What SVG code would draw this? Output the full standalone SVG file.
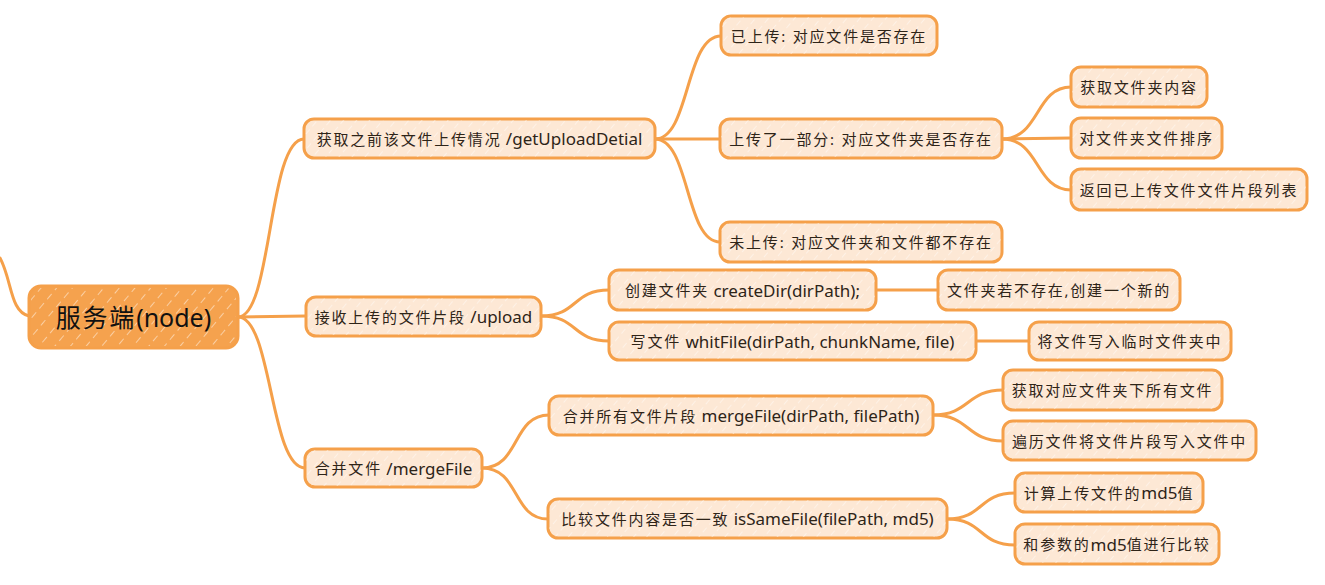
<svg xmlns="http://www.w3.org/2000/svg" width="1325" height="585" viewBox="0 0 1325 585">
<defs>
<pattern id="hatchL" width="10" height="10" patternUnits="userSpaceOnUse" patternTransform="rotate(40)">
<line x1="0" y1="0" x2="0" y2="6" stroke="#ffffff" stroke-width="1.2" stroke-opacity="0.7"/>
</pattern>
<pattern id="hatchR" width="12" height="12" patternUnits="userSpaceOnUse" patternTransform="rotate(40)">
<line x1="0" y1="0" x2="0" y2="7" stroke="#ffffff" stroke-width="1.3" stroke-opacity="0.75"/>
</pattern>
<style>
.n rect.b{fill:#fde8d5;stroke:#f5a04a;stroke-width:3}
.n rect.h{fill:url(#hatchL);stroke:none}
.n text{font-family:"Noto Sans","Noto Sans CJK SC",sans-serif;font-size:17px;fill:#2e2418;text-anchor:middle;dominant-baseline:central}
.c{letter-spacing:1.8px;font-size:15px}
#root rect.b{fill:#f5a24e;stroke:#f5a04a;stroke-width:3}
#root rect.h{fill:url(#hatchR)}
#root text{font-size:25px;fill:#111111}
#root .c{font-size:25px}
#links path{fill:none;stroke:#f5a04a;stroke-width:3;stroke-linecap:round}
</style>
</defs>
<rect width="1325" height="585" fill="#ffffff"/>
<g id="links">
<path d="M0,258 C12,280 10,312 29,316"/>
<path d="M238,317 C272,317 268,139 304,139"/>
<path d="M238,317 L306,316"/>
<path d="M238,317 C272,317 270,468 305,468"/>
<path d="M655,139 C690,139 685,36 721,36"/>
<path d="M655,139 L720,139"/>
<path d="M655,139 C690,139 685,242 720,242"/>
<path d="M1002,139 C1040,139 1035,87 1071,87"/>
<path d="M1002,139 L1071,138"/>
<path d="M1002,139 C1040,139 1035,190 1071,190"/>
<path d="M541,316 C578,316 572,290 609,290"/>
<path d="M541,316 C578,316 572,341 609,341"/>
<path d="M876,290 L938,290"/>
<path d="M976,341 L1029,341"/>
<path d="M482,468 C520,468 512,415 549,415"/>
<path d="M482,468 C520,468 512,519 548,519"/>
<path d="M933,415 C970,415 966,390 1003,390"/>
<path d="M933,415 C970,415 966,441 1003,441"/>
<path d="M947,519 C984,519 978,493 1015,493"/>
<path d="M947,519 C984,519 978,545 1015,545"/>
</g>
<g id="root" class="n"><rect class="b" x="29" y="286" width="209" height="62" rx="12"/><rect class="h" x="31" y="288" width="205" height="58" rx="11"/><text x="133.5" y="317"><tspan class="c">服务端</tspan>(node)</text></g>
<g id="n1" class="n"><rect class="b" x="304" y="119" width="351" height="39" rx="10"/><rect class="h" x="305" y="120" width="349" height="37" rx="9"/><text x="479.5" y="138.5"><tspan class="c">获取之前该文件上传情况</tspan> /getUploadDetial</text></g>
<g id="n2" class="n"><rect class="b" x="306" y="297" width="235" height="39" rx="10"/><rect class="h" x="307" y="298" width="233" height="37" rx="9"/><text x="423.5" y="316.5"><tspan class="c">接收上传的文件片段</tspan> /upload</text></g>
<g id="n3" class="n"><rect class="b" x="305" y="449" width="177" height="38" rx="10"/><rect class="h" x="306" y="450" width="175" height="36" rx="9"/><text x="393.5" y="468"><tspan class="c">合并文件</tspan> /mergeFile</text></g>
<g id="a1" class="n"><rect class="b" x="721" y="16" width="216" height="39" rx="10"/><rect class="h" x="722" y="17" width="214" height="37" rx="9"/><text x="829" y="35.5"><tspan class="c">已上传: 对应文件是否存在</tspan></text></g>
<g id="a2" class="n"><rect class="b" x="720" y="119" width="282" height="39" rx="10"/><rect class="h" x="721" y="120" width="280" height="37" rx="9"/><text x="861" y="138.5"><tspan class="c">上传了一部分: 对应文件夹是否存在</tspan></text></g>
<g id="a3" class="n"><rect class="b" x="720" y="222" width="282" height="40" rx="10"/><rect class="h" x="721" y="223" width="280" height="38" rx="9"/><text x="861" y="242"><tspan class="c">未上传: 对应文件夹和文件都不存在</tspan></text></g>
<g id="b1" class="n"><rect class="b" x="1071" y="67" width="136" height="40" rx="10"/><rect class="h" x="1072" y="68" width="134" height="38" rx="9"/><text x="1139" y="87"><tspan class="c">获取文件夹内容</tspan></text></g>
<g id="b2" class="n"><rect class="b" x="1071" y="118" width="151" height="40" rx="10"/><rect class="h" x="1072" y="119" width="149" height="38" rx="9"/><text x="1146.5" y="138"><tspan class="c">对文件夹文件排序</tspan></text></g>
<g id="b3" class="n"><rect class="b" x="1071" y="169" width="236" height="41" rx="10"/><rect class="h" x="1072" y="170" width="234" height="39" rx="9"/><text x="1189" y="189.5"><tspan class="c">返回已上传文件文件片段列表</tspan></text></g>
<g id="c1" class="n"><rect class="b" x="609" y="270" width="267" height="40" rx="10"/><rect class="h" x="610" y="271" width="265" height="38" rx="9"/><text x="742.5" y="290"><tspan class="c">创建文件夹</tspan> createDir(dirPath);</text></g>
<g id="c2" class="n"><rect class="b" x="609" y="322" width="367" height="38" rx="10"/><rect class="h" x="610" y="323" width="365" height="36" rx="9"/><text x="792.5" y="341"><tspan class="c">写文件</tspan> whitFile(dirPath, chunkName, file)</text></g>
<g id="d1" class="n"><rect class="b" x="938" y="270" width="242" height="40" rx="10"/><rect class="h" x="939" y="271" width="240" height="38" rx="9"/><text x="1059" y="290"><tspan class="c">文件夹若不存在,创建一个新的</tspan></text></g>
<g id="d2" class="n"><rect class="b" x="1029" y="322" width="202" height="38" rx="10"/><rect class="h" x="1030" y="323" width="200" height="36" rx="9"/><text x="1130" y="341"><tspan class="c">将文件写入临时文件夹中</tspan></text></g>
<g id="e1" class="n"><rect class="b" x="549" y="396" width="384" height="39" rx="10"/><rect class="h" x="550" y="397" width="382" height="37" rx="9"/><text x="741" y="415.5"><tspan class="c">合并所有文件片段</tspan> mergeFile(dirPath, filePath)</text></g>
<g id="e2" class="n"><rect class="b" x="548" y="499" width="399" height="39" rx="10"/><rect class="h" x="549" y="500" width="397" height="37" rx="9"/><text x="747.5" y="518.5"><tspan class="c">比较文件内容是否一致</tspan> isSameFile(filePath, md5)</text></g>
<g id="f1" class="n"><rect class="b" x="1003" y="370" width="219" height="40" rx="10"/><rect class="h" x="1004" y="371" width="217" height="38" rx="9"/><text x="1112.5" y="390"><tspan class="c">获取对应文件夹下所有文件</tspan></text></g>
<g id="f2" class="n"><rect class="b" x="1003" y="421" width="253" height="39" rx="10"/><rect class="h" x="1004" y="422" width="251" height="37" rx="9"/><text x="1129.5" y="440.5"><tspan class="c">遍历文件将文件片段写入文件中</tspan></text></g>
<g id="f3" class="n"><rect class="b" x="1015" y="473" width="188" height="39" rx="10"/><rect class="h" x="1016" y="474" width="186" height="37" rx="9"/><text x="1109" y="492.5"><tspan class="c">计算上传文件的</tspan>md5<tspan class="c">值</tspan></text></g>
<g id="f4" class="n"><rect class="b" x="1015" y="524" width="204" height="40" rx="10"/><rect class="h" x="1016" y="525" width="202" height="38" rx="9"/><text x="1117" y="544"><tspan class="c">和参数的</tspan>md5<tspan class="c">值进行比较</tspan></text></g>
</svg>
